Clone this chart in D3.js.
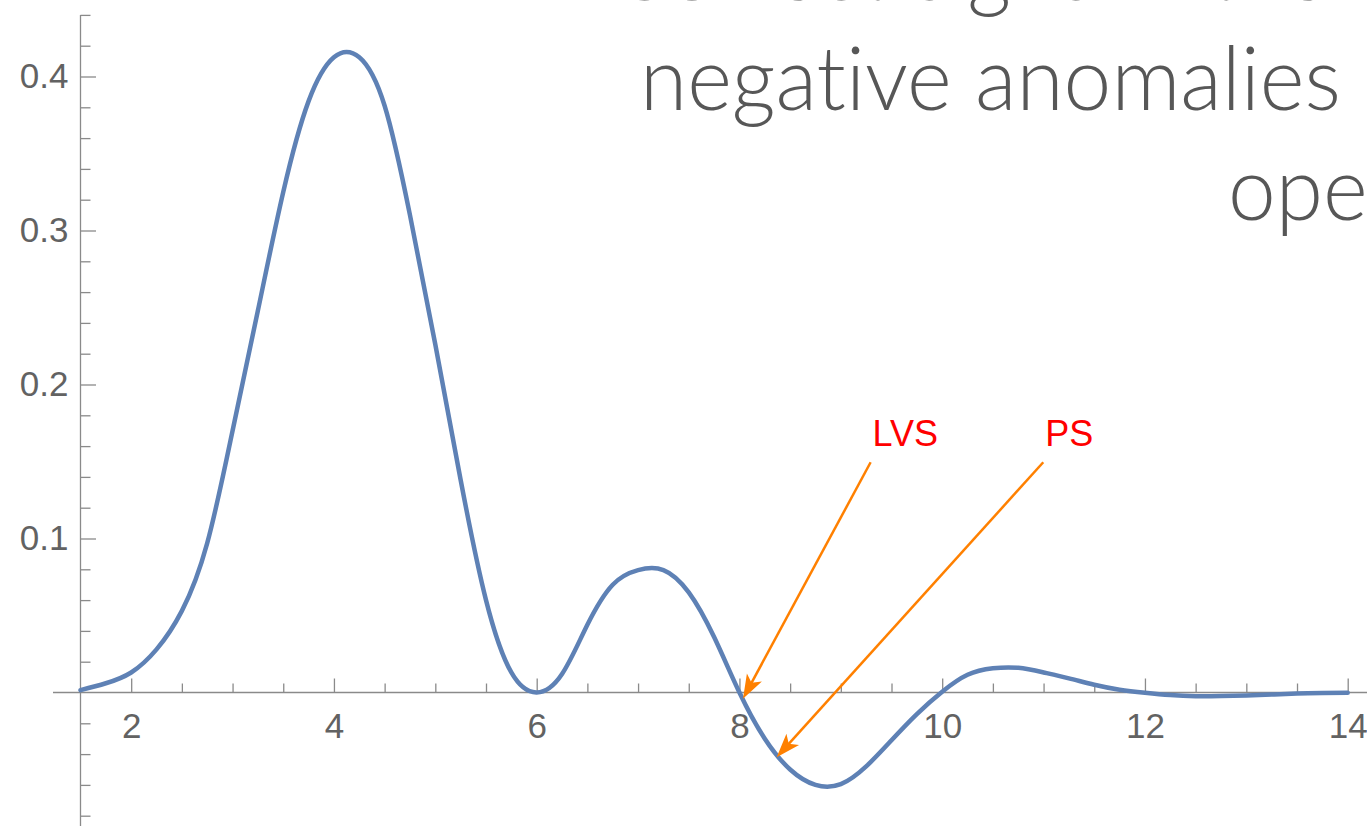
<!DOCTYPE html>
<html>
<head>
<meta charset="utf-8">
<script src="https://cdn.jsdelivr.net/npm/d3@7"></script>
<style>
html,body{margin:0;padding:0;background:#fff;overflow:hidden}
svg{display:block}
</style>
</head>
<body>
<svg id="chart" width="1367" height="826"></svg>
<script>
// ---- data ----
const xValues = [1.5,1.75,2,2.25,2.5,2.75,3,3.25,3.5,3.75,4,4.25,4.5,4.75,5,5.25,5.5,5.75,6,6.25,6.5,6.75,7,7.25,7.5,7.75,8,8.25,8.5,8.75,9,9.25,9.5,9.75,10,10.25,10.5,10.75,11,11.25,11.5,11.75,12,12.25,12.5,12.75,13,13.25,13.5,13.75,14];
const yValues = [0.0015,0.006,0.013,0.028,0.053,0.097,0.170,0.248,0.325,0.384,0.4125,0.4125,0.381,0.310,0.226,0.138,0.060,0.013,0,0.012,0.044,0.070,0.0795,0.0795,0.065,0.036,0,-0.030,-0.050,-0.060,-0.0595,-0.048,-0.031,-0.014,0.0005,0.0115,0.0157,0.016,0.013,0.0092,0.005,0.0018,-0.0002,-0.0017,-0.0024,-0.0023,-0.0019,-0.0013,-0.0007,-0.0004,-0.0002];

const xMajorTicks = [2,4,6,8,10,12,14];
const xMinorTicks = [2.5,3,3.5,4.5,5,5.5,6.5,7,7.5,8.5,9,9.5,10.5,11,11.5,12.5,13,13.5];
const yMajorTicks = [0.1,0.2,0.3,0.4];
const yTickLabels = ["0.1","0.2","0.3","0.4"];
const yMinorTicks = [0.44,0.42,0.38,0.36,0.34,0.32,0.28,0.26,0.24,0.22,0.18,0.16,0.14,0.12,0.08,0.06,0.04,0.02,-0.02,-0.04,-0.06,-0.08];

const annotationLabels = ["LVS","PS"];
const annotationStartX = [9.294,10.997];
const annotationStartY = [0.1495,0.1495];
const annotationTipX = [8.035,8.367];
const annotationTipY = [-0.004,-0.042];
const annotationLabelY = [0.160,0.160];

const titleLines = ["Correct signs in the","negative anomalies","operator"];

// ---- drawing ----
const svg = d3.select("#chart");
const W = 1367, H = 826;
const x = d3.scaleLinear().domain([1.5,14]).range([80.5,1347.7]);
const y = d3.scaleLinear().domain([0,0.4]).range([692.5,76.5]);

const axisColor = "#8a8a8a";
const labelColor = "#626262";

// Title (background text)
const titleG = svg.append("g")
  .attr("font-family","'Lato','Open Sans','Noto Sans',sans-serif")
  .attr("font-weight",300)
  .attr("font-size",88)
  .style("font-variant-ligatures","none")
  .attr("fill","#575757");
const titlePos = [[611,0],[640,110],[1228,220]];
const tNodes = titleLines.map((t,i)=> titleG.append("text")
  .attr("x",titlePos[i][0]).attr("y",titlePos[i][1]).text(t));
const natural = tNodes[1].node().getComputedTextLength();
const ratio = 701/natural;
tNodes.forEach(n=>{
  const L = n.node().getComputedTextLength();
  n.attr("textLength", L*ratio).attr("lengthAdjust","spacingAndGlyphs");
});

// axes lines
svg.append("line").attr("x1",53).attr("x2",W).attr("y1",y(0)).attr("y2",y(0))
  .attr("stroke",axisColor).attr("stroke-width",1.3);
svg.append("line").attr("x1",x(1.5)).attr("x2",x(1.5)).attr("y1",y(0.44)).attr("y2",H)
  .attr("stroke",axisColor).attr("stroke-width",1.3);

// x axis
const gx = svg.append("g").attr("transform",`translate(0,${y(0)})`);
gx.call(d3.axisBottom(x).tickValues(xMajorTicks).tickSize(-14).tickPadding(21).tickFormat(d3.format("d")));
const gxm = svg.append("g").attr("transform",`translate(0,${y(0)})`);
gxm.call(d3.axisBottom(x).tickValues(xMinorTicks).tickSize(-9).tickFormat(""));

// y axis
const gy = svg.append("g").attr("transform",`translate(${x(1.5)},0)`);
gy.call(d3.axisLeft(y).tickValues(yMajorTicks).tickSize(-15.5).tickPadding(12).tickFormat((d,i)=>yTickLabels[i]));
const gym = svg.append("g").attr("transform",`translate(${x(1.5)},0)`);
gym.call(d3.axisLeft(y).tickValues(yMinorTicks).tickSize(-10).tickFormat(""));

[gx,gxm,gy,gym].forEach(g=>{
  g.select(".domain").remove();
  g.selectAll(".tick line").attr("stroke",axisColor).attr("stroke-width",1.3);
  g.selectAll(".tick text").attr("fill",labelColor)
    .attr("font-family","'Liberation Sans',Arial,sans-serif").attr("font-size",35);
});

// curve
const pts = xValues.map((v,i)=>[v,yValues[i]]);
const line = d3.line().x(d=>x(d[0])).y(d=>y(d[1])).curve(d3.curveNatural);
svg.append("path").datum(pts).attr("d",line)
  .attr("fill","none").attr("stroke","#5E81B5").attr("stroke-width",4.5)
  .attr("stroke-linejoin","round").attr("stroke-linecap","round");

// annotations
const orange = "#FF8000";
annotationLabels.forEach((lab,i)=>{
  const sx = x(annotationStartX[i]), sy = y(annotationStartY[i]);
  const tx = x(annotationTipX[i]), ty = y(annotationTipY[i]);
  const ang = Math.atan2(ty-sy, tx-sx);
  const len = Math.hypot(tx-sx, ty-sy);
  const ex = sx + Math.cos(ang)*(len-14), ey = sy + Math.sin(ang)*(len-14);
  svg.append("line").attr("x1",sx).attr("y1",sy).attr("x2",ex).attr("y2",ey)
    .attr("stroke",orange).attr("stroke-width",2.5);
  svg.append("path").attr("d","M0,0 L-24,-8.5 L-18,0 L-24,8.5 Z")
    .attr("fill",orange)
    .attr("transform",`translate(${tx},${ty}) rotate(${ang*180/Math.PI})`);
  svg.append("text").attr("x",sx+2).attr("y",y(annotationLabelY[i]))
    .attr("fill","#FF0000").attr("font-family","'Liberation Sans',Arial,sans-serif")
    .attr("font-size",36).text(lab);
});
</script>
</body>
</html>
